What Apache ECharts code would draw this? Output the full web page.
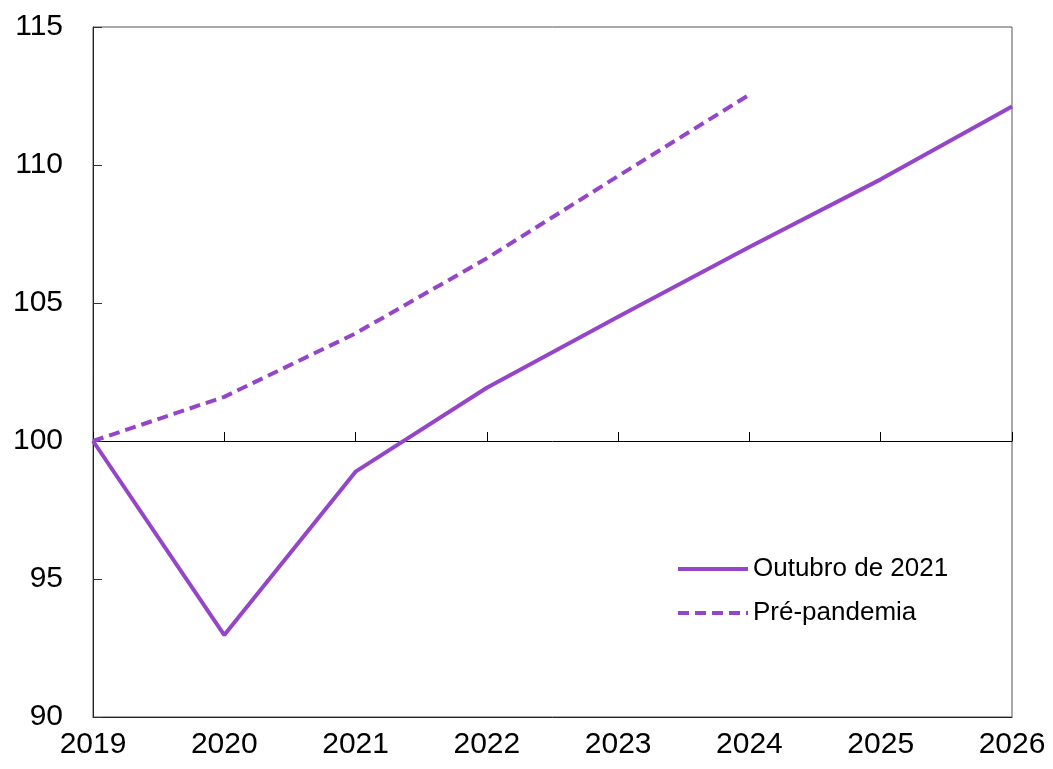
<!DOCTYPE html>
<html><head><meta charset="utf-8">
<script src="https://cdn.jsdelivr.net/npm/echarts@6/dist/echarts.min.js"></script>
<style>html,body{margin:0;padding:0;background:#fff}#c{width:1053px;height:769px}</style>
</head><body><div id="c"></div>
<script>
const years = [2019, 2020, 2021, 2022, 2023, 2024, 2025, 2026];
const outubro2021 = [100, 92.97, 98.89, 101.93, 104.5, 107.03, 109.48, 112.12];
const prePandemia = [100, 101.6, 103.9, 106.62, 109.6, 112.55];
const seriesNames = ['Outubro de 2021', 'Pré-pandemia'];
const purple = '#9445C9';
const font = 'Liberation Sans, Arial, sans-serif';

const chart = echarts.init(document.getElementById('c'));
chart.setOption({
  animation: false,
  backgroundColor: '#fff',
  grid: {left: 93, right: 41, top: 27, bottom: 52, show: true, borderColor: '#555', borderWidth: 1},
  legend: {
    orient: 'vertical', left: 671, top: 551, itemWidth: 70, itemHeight: 14, itemGap: 18,
    itemStyle: {opacity: 0},
    lineStyle: {width: 4},
    textStyle: {fontFamily: font, fontSize: 26, color: '#000', padding: [0,0,0,0]},
    data: seriesNames
  },
  xAxis: [{
    type: 'value', min: 2019, max: 2026, interval: 1,
    axisLine: {show: true, lineStyle: {color: '#222', width: 1}},
    axisTick: {show: false}, splitLine: {show: false},
    axisLabel: {fontFamily: font, fontSize: 30, color: '#000', margin: 13, formatter: v => String(v)}
  }, {
    type: 'value', min: 2019, max: 2026, interval: 1, position: 'bottom', offset: -276,
    axisLine: {show: true, lineStyle: {color: '#000', width: 1}},
    axisTick: {show: true, inside: true, length: 9, lineStyle: {color: '#000'}},
    axisLabel: {show: false}, splitLine: {show: false}
  }],
  yAxis: {
    type: 'value', min: 90, max: 115, interval: 5,
    axisLine: {show: true, lineStyle: {color: '#222'}},
    axisTick: {show: true, inside: true, length: 9, lineStyle: {color: '#333'}},
    splitLine: {show: false},
    axisLabel: {fontFamily: font, fontSize: 30, color: '#000', margin: 30}
  },
  series: [{
    name: seriesNames[0], type: 'line', symbol: 'none',
    lineStyle: {color: purple, width: 4}, itemStyle: {color: purple},
    data: years.map((y, i) => [y, outubro2021[i]])
  }, {
    name: seriesNames[1], type: 'line', symbol: 'none',
    lineStyle: {color: purple, width: 4, type: [11, 6]}, itemStyle: {color: purple},
    data: prePandemia.map((v, i) => [years[i], v])
  }]
});
</script></body></html>
